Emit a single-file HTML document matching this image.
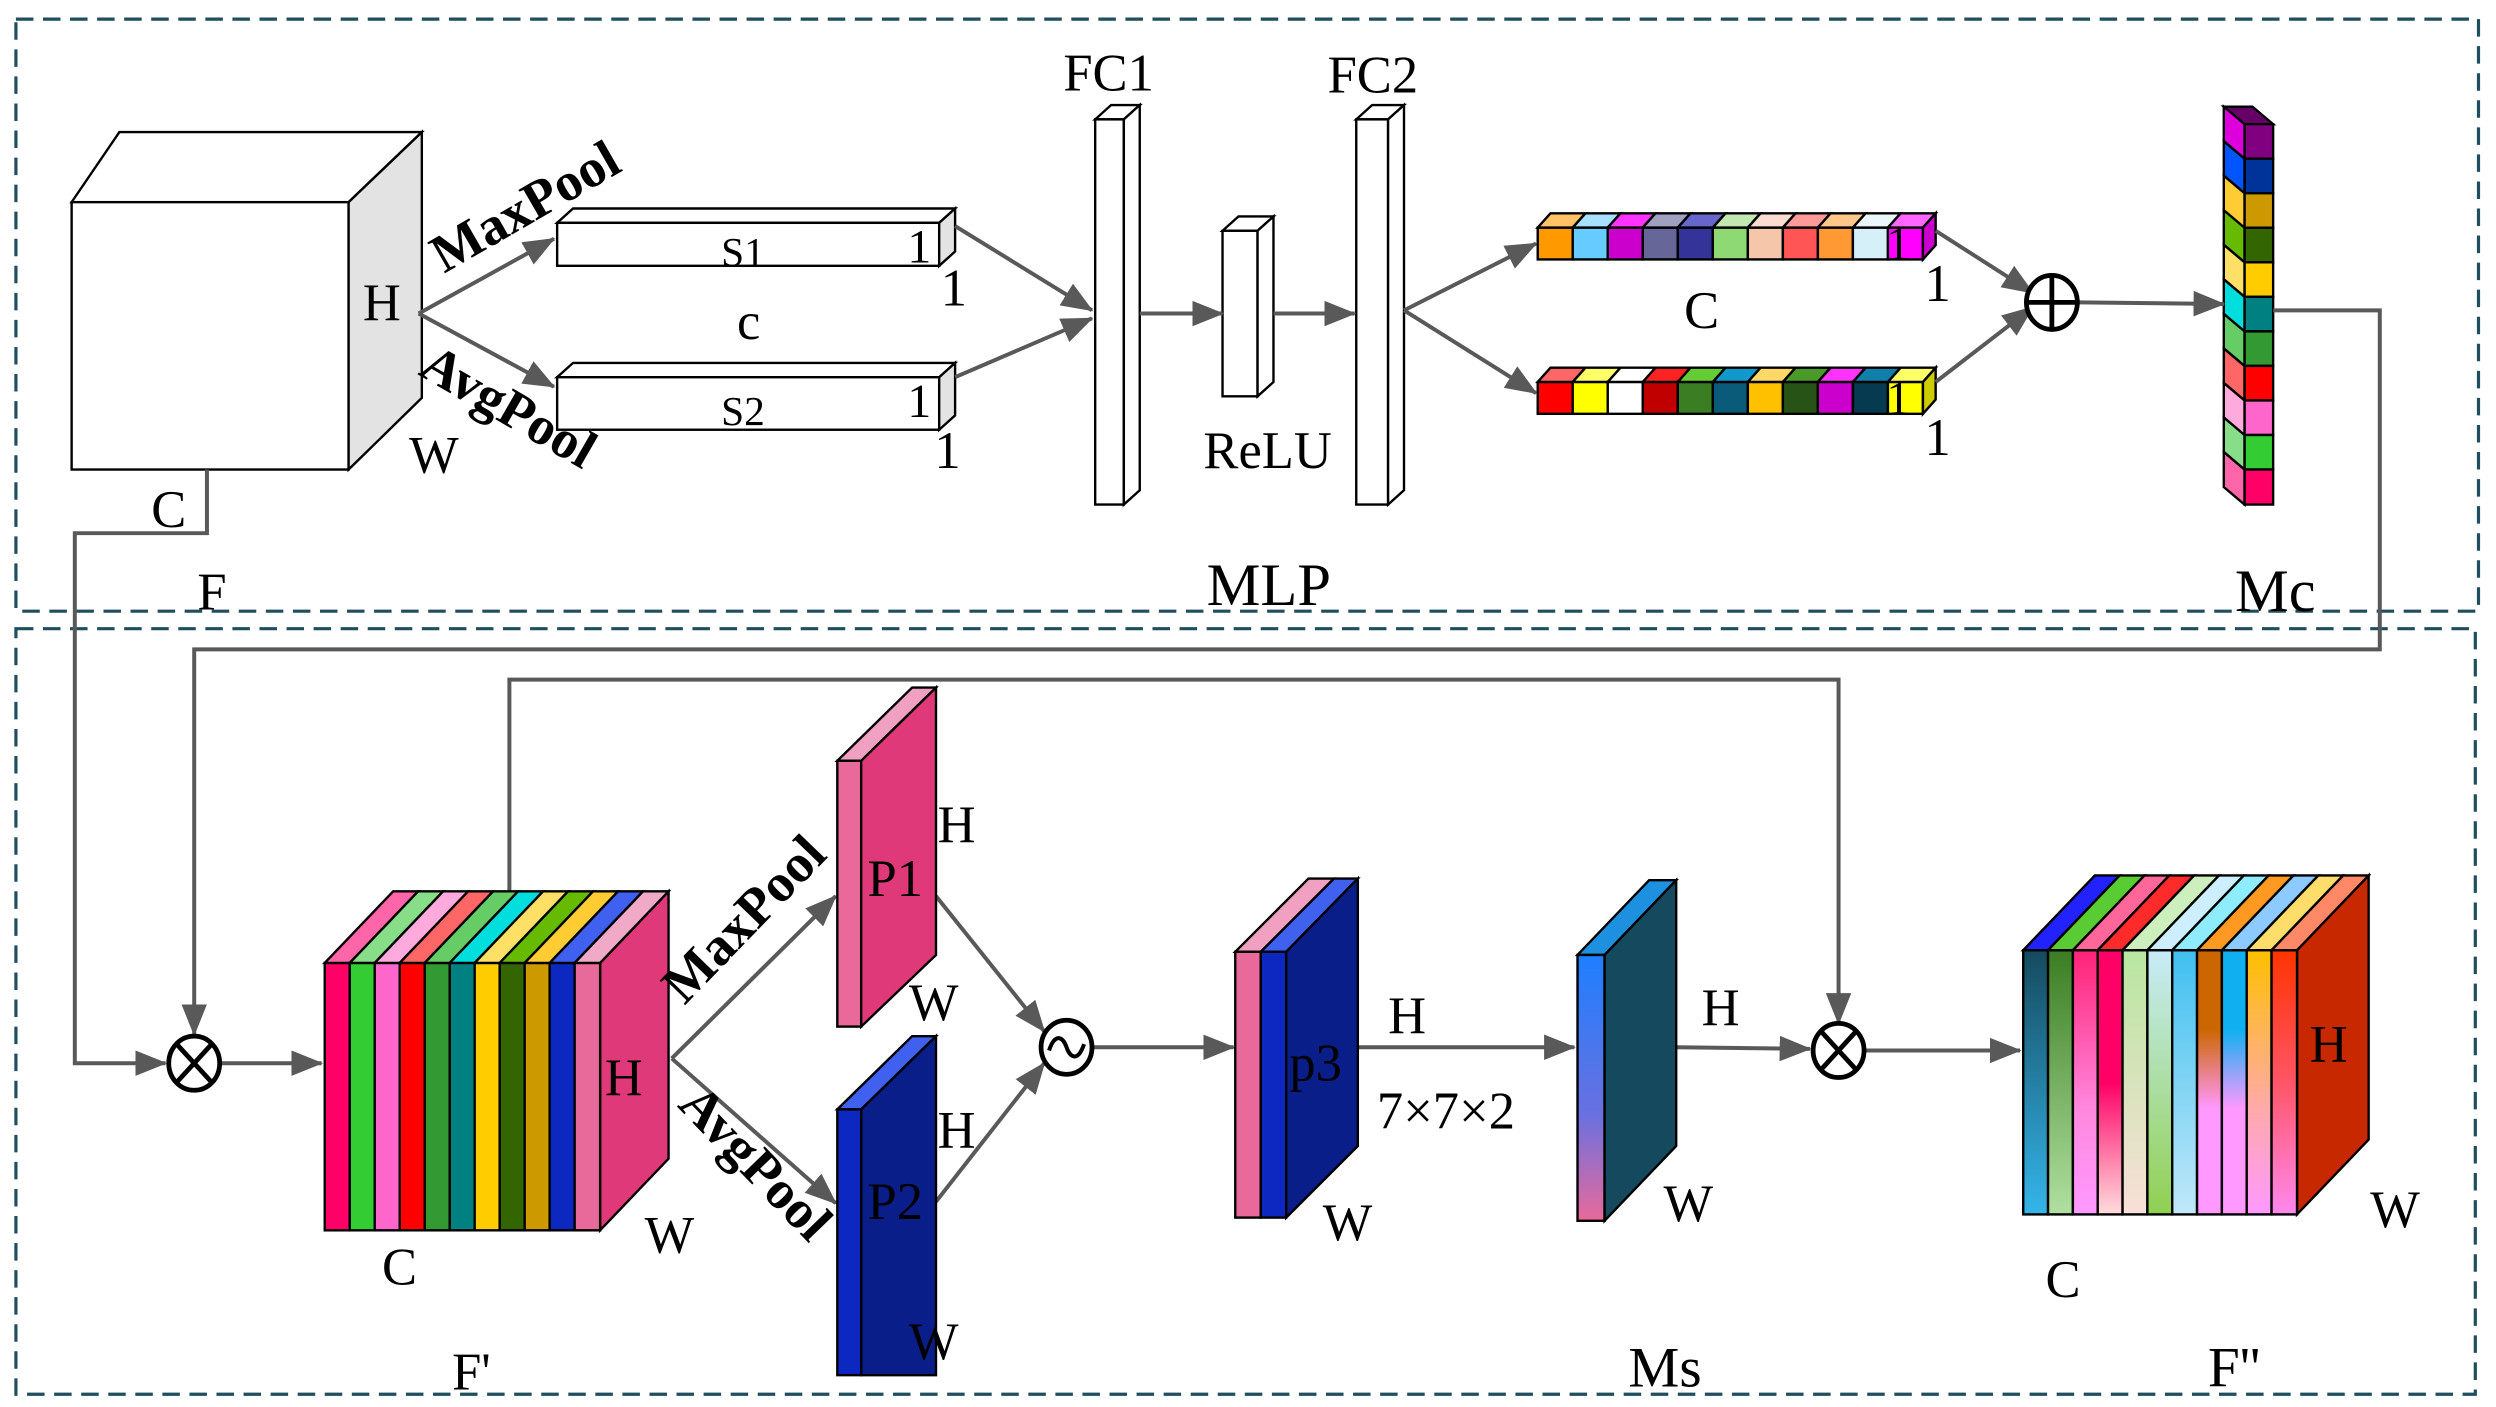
<!DOCTYPE html>
<html><head><meta charset="utf-8"><style>
html,body{margin:0;padding:0;background:#fff;}
svg{display:block;}
text{font-family:"Liberation Serif",serif;fill:#000;}
</style></head><body>
<svg width="2496" height="1407" viewBox="0 0 1568 884" preserveAspectRatio="none" xmlns="http://www.w3.org/2000/svg">
<defs>
<marker id="ah2" markerWidth="20" markerHeight="16" refX="19" refY="8" orient="auto" markerUnits="userSpaceOnUse" viewBox="0 0 20 16">
<path d="M0,0 L20,8 L0,16 z" fill="#595959"/></marker>
<linearGradient id="msg" x1="0" y1="0" x2="0" y2="1"><stop offset="0" stop-color="#1e7fff"/><stop offset="0.6" stop-color="#6a70e0"/><stop offset="1" stop-color="#e86a9a"/></linearGradient>
<linearGradient id="g1" x1="0" y1="0" x2="0" y2="1"><stop offset="0" stop-color="#154a5e"/><stop offset="1" stop-color="#35b5ea"/></linearGradient>
<linearGradient id="g2" x1="0" y1="0" x2="0" y2="1"><stop offset="0" stop-color="#3a7d22"/><stop offset="1" stop-color="#b0e0a0"/></linearGradient>
<linearGradient id="g3" x1="0" y1="0" x2="0" y2="1"><stop offset="0" stop-color="#ff2277"/><stop offset="0.6" stop-color="#ff88dd"/><stop offset="1" stop-color="#ff99ff"/></linearGradient>
<linearGradient id="g4" x1="0" y1="0" x2="0" y2="1"><stop offset="0" stop-color="#ff0066"/><stop offset="0.5" stop-color="#ff0066"/><stop offset="1" stop-color="#ffdddd"/></linearGradient>
<linearGradient id="g5" x1="0" y1="0" x2="0" y2="1"><stop offset="0" stop-color="#b8e6a0"/><stop offset="1" stop-color="#f8e0d8"/></linearGradient>
<linearGradient id="g6" x1="0" y1="0" x2="0" y2="1"><stop offset="0" stop-color="#c8ecf8"/><stop offset="1" stop-color="#90d050"/></linearGradient>
<linearGradient id="g7" x1="0" y1="0" x2="0" y2="1"><stop offset="0" stop-color="#40bff0"/><stop offset="1" stop-color="#c0e8f8"/></linearGradient>
<linearGradient id="g8" x1="0" y1="0" x2="0" y2="1"><stop offset="0" stop-color="#cc6600"/><stop offset="0.3" stop-color="#cc6600"/><stop offset="0.6" stop-color="#ff99ff"/><stop offset="1" stop-color="#ff99ff"/></linearGradient>
<linearGradient id="g9" x1="0" y1="0" x2="0" y2="1"><stop offset="0" stop-color="#10b0f0"/><stop offset="0.3" stop-color="#10b0f0"/><stop offset="0.6" stop-color="#ff99ff"/><stop offset="1" stop-color="#ff99ff"/></linearGradient>
<linearGradient id="g10" x1="0" y1="0" x2="0" y2="1"><stop offset="0" stop-color="#ffc000"/><stop offset="0.6" stop-color="#ffaaaa"/><stop offset="1" stop-color="#ff99ff"/></linearGradient>
<linearGradient id="g11" x1="0" y1="0" x2="0" y2="1"><stop offset="0" stop-color="#ff3300"/><stop offset="0.5" stop-color="#ff5566"/><stop offset="1" stop-color="#ff88ee"/></linearGradient>
</defs>

<rect x="10" y="12" width="1547" height="372" fill="none" stroke="#1f4e5f" stroke-width="2" stroke-dasharray="11,6"/>
<rect x="10" y="395" width="1545" height="481" fill="none" stroke="#1f4e5f" stroke-width="2" stroke-dasharray="11,6"/>

<g stroke="#000" stroke-width="1.5">
<polygon points="45,127 219,127 265,83 75,83" fill="#fff"/>
<rect x="45" y="127" width="174" height="168" fill="#fff"/>
<polygon points="219,127 265,83 265,250 219,295" fill="#e3e3e3"/>
<polygon points="350,140 590,140 600,131 360,131" fill="#fff"/>
<rect x="350" y="140" width="240" height="27" fill="#fff"/>
<polygon points="590,140 600,131 600,158 590,167" fill="#e3e3e3"/>
<polygon points="350,237 590,237 600,228 360,228" fill="#fff"/>
<rect x="350" y="237" width="240" height="33" fill="#fff"/>
<polygon points="590,237 600,228 600,261 590,270" fill="#e3e3e3"/>
<polygon points="688,75 706,75 716,66 698,66" fill="#fff"/>
<rect x="688" y="75" width="18" height="242" fill="#fff"/>
<polygon points="706,75 716,66 716,308 706,317" fill="#fff"/>
<polygon points="768,145 790,145 800,136 778,136" fill="#fff"/>
<rect x="768" y="145" width="22" height="104" fill="#fff"/>
<polygon points="790,145 800,136 800,240 790,249" fill="#fff"/>
<polygon points="852,75 872,75 882,66 862,66" fill="#fff"/>
<rect x="852" y="75" width="20" height="242" fill="#fff"/>
<polygon points="872,75 882,66 882,308 872,317" fill="#fff"/>
</g>

<g stroke="#000" stroke-width="1.5">
<rect x="966" y="143" width="22" height="20" fill="#ff9900"/><polygon points="966,143 988,143 996,134 974,134" fill="#ffc266"/>
<rect x="988" y="143" width="22" height="20" fill="#66ccff"/><polygon points="988,143 1010,143 1018,134 996,134" fill="#a8e0ff"/>
<rect x="1010" y="143" width="22" height="20" fill="#cc00cc"/><polygon points="1010,143 1032,143 1040,134 1018,134" fill="#ff33ff"/>
<rect x="1032" y="143" width="22" height="20" fill="#666699"/><polygon points="1032,143 1054,143 1062,134 1040,134" fill="#a0a0c0"/>
<rect x="1054" y="143" width="22" height="20" fill="#333399"/><polygon points="1054,143 1076,143 1084,134 1062,134" fill="#6666cc"/>
<rect x="1076" y="143" width="22" height="20" fill="#8fd974"/><polygon points="1076,143 1098,143 1106,134 1084,134" fill="#c0e8b0"/>
<rect x="1098" y="143" width="22" height="20" fill="#f5c6aa"/><polygon points="1098,143 1120,143 1128,134 1106,134" fill="#fadcd0"/>
<rect x="1120" y="143" width="22" height="20" fill="#ff5555"/><polygon points="1120,143 1142,143 1150,134 1128,134" fill="#ff9a9a"/>
<rect x="1142" y="143" width="22" height="20" fill="#ff9933"/><polygon points="1142,143 1164,143 1172,134 1150,134" fill="#ffc88a"/>
<rect x="1164" y="143" width="22" height="20" fill="#d6f0fa"/><polygon points="1164,143 1186,143 1194,134 1172,134" fill="#eaf7fc"/>
<rect x="1186" y="143" width="22" height="20" fill="#ff00ff"/><polygon points="1186,143 1208,143 1216,134 1194,134" fill="#ff66ff"/>
<polygon points="1208,143 1216,134 1216,154 1208,163" fill="#cc00cc"/>
<rect x="966" y="240" width="22" height="20" fill="#ff0000"/><polygon points="966,240 988,240 996,231 974,231" fill="#ff6666"/>
<rect x="988" y="240" width="22" height="20" fill="#ffff00"/><polygon points="988,240 1010,240 1018,231 996,231" fill="#ffff66"/>
<rect x="1010" y="240" width="22" height="20" fill="#ffffff"/><polygon points="1010,240 1032,240 1040,231 1018,231" fill="#ffffff"/>
<rect x="1032" y="240" width="22" height="20" fill="#c00000"/><polygon points="1032,240 1054,240 1062,231 1040,231" fill="#ff2222"/>
<rect x="1054" y="240" width="22" height="20" fill="#3a7d22"/><polygon points="1054,240 1076,240 1084,231 1062,231" fill="#66cc33"/>
<rect x="1076" y="240" width="22" height="20" fill="#0a5a7a"/><polygon points="1076,240 1098,240 1106,231 1084,231" fill="#1199cc"/>
<rect x="1098" y="240" width="22" height="20" fill="#ffc000"/><polygon points="1098,240 1120,240 1128,231 1106,231" fill="#ffd966"/>
<rect x="1120" y="240" width="22" height="20" fill="#275317"/><polygon points="1120,240 1142,240 1150,231 1128,231" fill="#4a9a2a"/>
<rect x="1142" y="240" width="22" height="20" fill="#cc00cc"/><polygon points="1142,240 1164,240 1172,231 1150,231" fill="#ff33ff"/>
<rect x="1164" y="240" width="22" height="20" fill="#063a50"/><polygon points="1164,240 1186,240 1194,231 1172,231" fill="#1080aa"/>
<rect x="1186" y="240" width="22" height="20" fill="#ffff00"/><polygon points="1186,240 1208,240 1216,231 1194,231" fill="#ffff66"/>
<polygon points="1208,240 1216,231 1216,251 1208,260" fill="#cccc00"/>

<polygon points="1397,67 1415,67 1428,78 1410,78" fill="#660066"/>
<rect x="1410" y="78" width="18" height="21.7" fill="#800080"/><polygon points="1397,67 1410,78 1410,99.7 1397,88.7" fill="#dd00dd"/>
<rect x="1410" y="99.7" width="18" height="21.7" fill="#003399"/><polygon points="1397,88.7 1410,99.7 1410,121.4 1397,110.4" fill="#0055ff"/>
<rect x="1410" y="121.4" width="18" height="21.7" fill="#cc9900"/><polygon points="1397,110.4 1410,121.4 1410,143.1 1397,132.1" fill="#ffcc33"/>
<rect x="1410" y="143.1" width="18" height="21.7" fill="#336600"/><polygon points="1397,132.1 1410,143.1 1410,164.8 1397,153.8" fill="#66bb00"/>
<rect x="1410" y="164.8" width="18" height="21.7" fill="#ffcc00"/><polygon points="1397,153.8 1410,164.8 1410,186.5 1397,175.5" fill="#ffe066"/>
<rect x="1410" y="186.5" width="18" height="21.7" fill="#008080"/><polygon points="1397,175.5 1410,186.5 1410,208.2 1397,197.2" fill="#00dddd"/>
<rect x="1410" y="208.2" width="18" height="21.7" fill="#339933"/><polygon points="1397,197.2 1410,208.2 1410,229.9 1397,218.9" fill="#66cc66"/>
<rect x="1410" y="229.9" width="18" height="21.7" fill="#ff0000"/><polygon points="1397,218.9 1410,229.9 1410,251.6 1397,240.6" fill="#ff6666"/>
<rect x="1410" y="251.6" width="18" height="21.7" fill="#ff66cc"/><polygon points="1397,240.6 1410,251.6 1410,273.3 1397,262.3" fill="#ffaadd"/>
<rect x="1410" y="273.3" width="18" height="21.7" fill="#33cc33"/><polygon points="1397,262.3 1410,273.3 1410,295 1397,284" fill="#88dd88"/>
<rect x="1410" y="295" width="18" height="22" fill="#ff0066"/><polygon points="1397,284 1410,295 1410,317 1397,306" fill="#ff66aa"/>
</g>

<g stroke="#595959" stroke-width="2.5" fill="none">
<line x1="263" y1="197" x2="348" y2="150" marker-end="url(#ah2)"/>
<line x1="263" y1="197" x2="348" y2="243" marker-end="url(#ah2)"/>
<line x1="600" y1="142" x2="686" y2="195" marker-end="url(#ah2)"/>
<line x1="600" y1="237" x2="686" y2="200" marker-end="url(#ah2)"/>
<line x1="716" y1="197" x2="768" y2="197" marker-end="url(#ah2)"/>
<line x1="800" y1="197" x2="851" y2="197" marker-end="url(#ah2)"/>
<line x1="882" y1="195" x2="965" y2="153" marker-end="url(#ah2)"/>
<line x1="882" y1="195" x2="965" y2="247" marker-end="url(#ah2)"/>
<line x1="1216" y1="145" x2="1277" y2="184" marker-end="url(#ah2)"/>
<line x1="1216" y1="240" x2="1277" y2="193" marker-end="url(#ah2)"/>
<line x1="1306" y1="190" x2="1397" y2="191" marker-end="url(#ah2)"/>
<polyline points="1428,195 1495,195 1495,408 122,408 122,650" marker-end="url(#ah2)"/>
<polyline points="130,295 130,335 47,335 47,668 104,668" marker-end="url(#ah2)"/>
<line x1="139" y1="668" x2="202" y2="668" marker-end="url(#ah2)"/>
<polyline points="320,560 320,427 1155,427 1155,643" marker-end="url(#ah2)"/>
<line x1="422" y1="665" x2="525" y2="563" marker-end="url(#ah2)"/>
<line x1="422" y1="665" x2="525" y2="756" marker-end="url(#ah2)"/>
<line x1="588" y1="563" x2="656" y2="648" marker-end="url(#ah2)"/>
<line x1="588" y1="755" x2="656" y2="668" marker-end="url(#ah2)"/>
<line x1="687" y1="658" x2="775" y2="658" marker-end="url(#ah2)"/>
<line x1="853" y1="658" x2="989" y2="658" marker-end="url(#ah2)"/>
<line x1="1053" y1="658" x2="1137" y2="659" marker-end="url(#ah2)"/>
<line x1="1172" y1="660" x2="1269" y2="660" marker-end="url(#ah2)"/>
</g>

<g stroke="#000" stroke-width="3" fill="#fff">
<ellipse cx="1289" cy="190" rx="16" ry="17"/>
<line x1="1273" y1="190" x2="1305" y2="190"/><line x1="1289" y1="173" x2="1289" y2="207"/>
<ellipse cx="122" cy="668" rx="16" ry="17"/>
<line x1="111" y1="656" x2="133" y2="680"/><line x1="133" y1="656" x2="111" y2="680"/>
<ellipse cx="1155" cy="660" rx="16" ry="17"/>
<line x1="1144" y1="648" x2="1166" y2="672"/><line x1="1166" y1="648" x2="1144" y2="672"/>
<ellipse cx="670" cy="658" rx="16" ry="17"/>
<path d="M659,660 C663,648 668,652 670,658 C672,664 677,668 681,656" fill="none" stroke-width="2.5"/>
</g>

<g stroke="#000" stroke-width="1.5">
<polygon points="377,605 420,560 420,728 377,773" fill="#e0397a"/>
<rect x="204" y="605" width="15.7" height="168" fill="#ff0066"/><polygon points="204,605 219.7,605 262.7,560 247,560" fill="#ff66aa"/>
<rect x="219.7" y="605" width="15.7" height="168" fill="#33cc33"/><polygon points="219.7,605 235.4,605 278.4,560 262.7,560" fill="#88dd88"/>
<rect x="235.4" y="605" width="15.7" height="168" fill="#ff66cc"/><polygon points="235.4,605 251.1,605 294.1,560 278.4,560" fill="#ffaadd"/>
<rect x="251.1" y="605" width="15.7" height="168" fill="#ff0000"/><polygon points="251.1,605 266.8,605 309.8,560 294.1,560" fill="#ff6666"/>
<rect x="266.8" y="605" width="15.7" height="168" fill="#339933"/><polygon points="266.8,605 282.5,605 325.5,560 309.8,560" fill="#66cc66"/>
<rect x="282.5" y="605" width="15.7" height="168" fill="#008080"/><polygon points="282.5,605 298.2,605 341.2,560 325.5,560" fill="#00dddd"/>
<rect x="298.2" y="605" width="15.7" height="168" fill="#ffcc00"/><polygon points="298.2,605 313.9,605 356.9,560 341.2,560" fill="#ffe066"/>
<rect x="313.9" y="605" width="15.7" height="168" fill="#336600"/><polygon points="313.9,605 329.6,605 372.6,560 356.9,560" fill="#66bb00"/>
<rect x="329.6" y="605" width="15.7" height="168" fill="#cc9900"/><polygon points="329.6,605 345.3,605 388.3,560 372.6,560" fill="#ffcc33"/>
<rect x="345.3" y="605" width="15.7" height="168" fill="#0c28c0"/><polygon points="345.3,605 361,605 404,560 388.3,560" fill="#4060f0"/>
<rect x="361" y="605" width="16" height="168" fill="#e86a9a"/><polygon points="361,605 377,605 420,560 404,560" fill="#f0aac8"/>

<polygon points="526,478 541,478 588,432 573,432" fill="#f0a0c0"/>
<rect x="526" y="478" width="15" height="167" fill="#e8699a"/>
<polygon points="541,478 588,432 588,600 541,645" fill="#e0397a"/>
<polygon points="526,697 541,697 588,651 573,651" fill="#4060f0"/>
<rect x="526" y="697" width="15" height="167" fill="#0c28c0"/>
<polygon points="541,697 588,651 588,864 541,864" fill="#0a1e8a"/>
<polygon points="776,598 792,598 838,552 822,552" fill="#f0a0c0"/>
<rect x="776" y="598" width="16" height="167" fill="#e8699a"/>
<polygon points="792,598 808,598 853,552 838,552" fill="#4060f0"/>
<rect x="792" y="598" width="16" height="167" fill="#0c28c0"/>
<polygon points="808,598 853,552 853,720 808,765" fill="#0a1e8a"/>
<polygon points="991,600 1008,600 1053,553 1036,553" fill="#1e90e0"/>
<rect x="991" y="600" width="17" height="167" fill="url(#msg)"/>
<polygon points="1008,600 1053,553 1053,720 1008,767" fill="#154a5e"/>

<polygon points="1443,597 1488,550 1488,716 1443,763" fill="#c82800"/>
<rect x="1271" y="597" width="15.6" height="166" fill="url(#g1)"/><polygon points="1271,597 1286.6,597 1331.6,550 1316,550" fill="#2222ff"/>
<rect x="1286.6" y="597" width="15.6" height="166" fill="url(#g2)"/><polygon points="1286.6,597 1302.2,597 1347.2,550 1331.6,550" fill="#5acc33"/>
<rect x="1302.2" y="597" width="15.6" height="166" fill="url(#g3)"/><polygon points="1302.2,597 1317.8,597 1362.8,550 1347.2,550" fill="#ff6699"/>
<rect x="1317.8" y="597" width="15.6" height="166" fill="url(#g4)"/><polygon points="1317.8,597 1333.4,597 1378.4,550 1362.8,550" fill="#ff2a2a"/>
<rect x="1333.4" y="597" width="15.6" height="166" fill="url(#g5)"/><polygon points="1333.4,597 1349,597 1394,550 1378.4,550" fill="#cdeebd"/>
<rect x="1349" y="597" width="15.6" height="166" fill="url(#g6)"/><polygon points="1349,597 1364.6,597 1409.6,550 1394,550" fill="#cdeefc"/>
<rect x="1364.6" y="597" width="15.6" height="166" fill="url(#g7)"/><polygon points="1364.6,597 1380.2,597 1425.2,550 1409.6,550" fill="#8eecfc"/>
<rect x="1380.2" y="597" width="15.6" height="166" fill="url(#g8)"/><polygon points="1380.2,597 1395.8,597 1440.8,550 1425.2,550" fill="#ff9922"/>
<rect x="1395.8" y="597" width="15.6" height="166" fill="url(#g9)"/><polygon points="1395.8,597 1411.4,597 1456.4,550 1440.8,550" fill="#8ccaff"/>
<rect x="1411.4" y="597" width="15.6" height="166" fill="url(#g10)"/><polygon points="1411.4,597 1427,597 1472,550 1456.4,550" fill="#ffdd6a"/>
<rect x="1427" y="597" width="16" height="166" fill="url(#g11)"/><polygon points="1427,597 1443,597 1488,550 1472,550" fill="#ff8866"/>
</g>

<g font-size="33">
<text x="228" y="201">H</text>
<text x="257" y="297">W</text>
<text x="95" y="331">C</text>
<text x="124" y="383">F</text>
<text x="453" y="167" font-size="26">S1</text>
<text x="453" y="267" font-size="26">S2</text>
<text x="570" y="165" font-size="30">1</text>
<text x="570" y="262" font-size="30">1</text>
<text x="591" y="192">1</text>
<text x="587" y="294">1</text>
<text x="463" y="213">c</text>
<text x="668" y="57">FC1</text>
<text x="834" y="58">FC2</text>
<text x="756" y="294">ReLU</text>
<text x="1058" y="206">C</text>
<text x="1185" y="163" font-size="30">1</text>
<text x="1185" y="260" font-size="30">1</text>
<text x="1209" y="189">1</text>
<text x="1209" y="286">1</text>
<text x="758" y="380" font-size="38">MLP</text>
<text x="1404" y="384" font-size="38">Mc</text>
<text x="380" y="688">H</text>
<text x="405" y="787">W</text>
<text x="240" y="807">C</text>
<text x="284" y="873">F'</text>
<text x="545" y="563">P1</text>
<text x="589" y="529">H</text>
<text x="571" y="641">W</text>
<text x="545" y="766">P2</text>
<text x="589" y="721">H</text>
<text x="571" y="854">W</text>
<text x="810" y="679">p3</text>
<text x="872" y="649">H</text>
<text x="831" y="779">W</text>
<text x="865" y="709">7×7×2</text>
<text x="1069" y="644">H</text>
<text x="1045" y="767">W</text>
<text x="1023" y="871" font-size="36">Ms</text>
<text x="1451" y="667">H</text>
<text x="1489" y="771">W</text>
<text x="1285" y="815">C</text>
<text x="1387" y="871" font-size="36">F''</text>
<text font-size="34" font-weight="bold" transform="translate(279,172) rotate(-30)">MaxPool</text>
<text font-size="34" font-weight="bold" transform="translate(262,235) rotate(30)">AvgPool</text>
<text font-size="34" font-weight="bold" transform="translate(430,632) rotate(-46)">MaxPool</text>
<text font-size="34" font-weight="bold" transform="translate(425,695) rotate(46)">AvgPool</text>
</g>
</svg>
</body></html>
